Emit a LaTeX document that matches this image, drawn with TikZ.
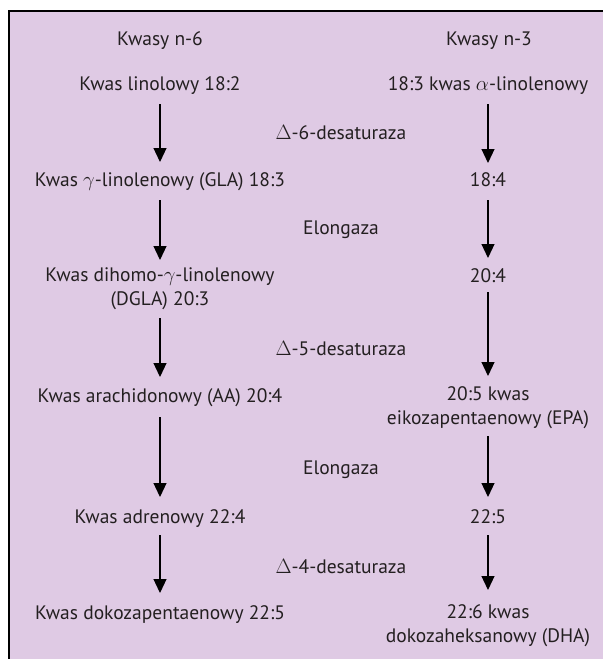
\documentclass[tikz,border=0pt]{standalone}
\usepackage{fontspec}
\setmainfont{PT Sans}
\usetikzlibrary{arrows.meta}
\definecolor{bgpurple}{RGB}{223,202,228}
\definecolor{ink}{RGB}{35,31,32}
\tikzset{
  lbl/.style={text=ink, font=\fontsize{19.5}{24}\selectfont, inner sep=0pt, text height=13pt, text depth=4pt},
  lbltwo/.style={text=ink, font=\fontsize{19.5}{24}\selectfont, align=center, inner sep=0pt},
  arr/.style={line width=1.2pt, -{Triangle[width=13pt,length=14pt]}}
}
\begin{document}
\begin{tikzpicture}[x=1pt,y=-1pt]
\useasboundingbox (0,0) rectangle (603,659);
\fill[bgpurple] (9,11) rectangle (603,659);
\draw[line width=1.4pt] (9,659) -- (9,11) -- (603,11);

% headers
\node[lbl] (h6) at (160,41) {Kwasy n-6};
\node[lbl] (h3) at (489,41) {Kwasy n-3};

% left column
\node[lbl] (l1) at (160,86) {Kwas linolowy 18:2};
\node[lbl] (l2) at (160,182) {Kwas $\gamma$-linolenowy (GLA) 18:3};
\node[lbltwo] (l3) at (160,289) {Kwas dihomo-$\gamma$-linolenowy\\(DGLA) 20:3};
\node[lbl] (l4) at (160,398) {Kwas arachidonowy (AA) 20:4};
\node[lbl] (l5) at (160,519) {Kwas adrenowy 22:4};
\node[lbl] (l6) at (160,615) {Kwas dokozapentaenowy 22:5};

% right column
\node[lbl] (r1) at (488,86) {18:3 kwas $\alpha$-linolenowy};
\node[lbl] (r2) at (488,182) {18:4};
\node[lbl] (r3) at (488,278) {20:4};
\node[lbltwo] (r4) at (488,408) {20:5 kwas\\eikozapentaenowy (EPA)};
\node[lbl] (r5) at (488,519) {22:5};
\node[lbltwo] (r6) at (488,626) {22:6 kwas\\dokozaheksanowy (DHA)};

% enzymes
\node[lbl] (e1) at (341,135) {$\Delta$-6-desaturaza};
\node[lbl] (e2) at (341,230) {Elongaza};
\node[lbl] (e3) at (341,351) {$\Delta$-5-desaturaza};
\node[lbl] (e4) at (341,470) {Elongaza};
\node[lbl] (e5) at (341,569) {$\Delta$-4-desaturaza};

% arrows (offsets from node centres)
\draw[arr] ([yshift=-18pt]l1.center) -- ([yshift=20pt]l2.center);
\draw[arr] ([yshift=-18pt]l2.center) -- ([yshift=29pt]l3.center);
\draw[arr] ([yshift=-29pt]l3.center) -- ([yshift=21pt]l4.center);
\draw[arr] ([yshift=-19pt]l4.center) -- ([yshift=22pt]l5.center);
\draw[arr] ([yshift=-16pt]l5.center) -- ([yshift=22pt]l6.center);

\draw[arr] ([yshift=-18pt]r1.center) -- ([yshift=19pt]r2.center);
\draw[arr] ([yshift=-18pt]r2.center) -- ([yshift=20pt]r3.center);
\draw[arr] ([yshift=-14pt]r3.center) -- ([yshift=32pt]r4.center);
\draw[arr] ([yshift=-28pt]r4.center) -- ([yshift=22pt]r5.center);
\draw[arr] ([yshift=-16pt]r5.center) -- ([yshift=36pt]r6.center);
\end{tikzpicture}
\end{document}
